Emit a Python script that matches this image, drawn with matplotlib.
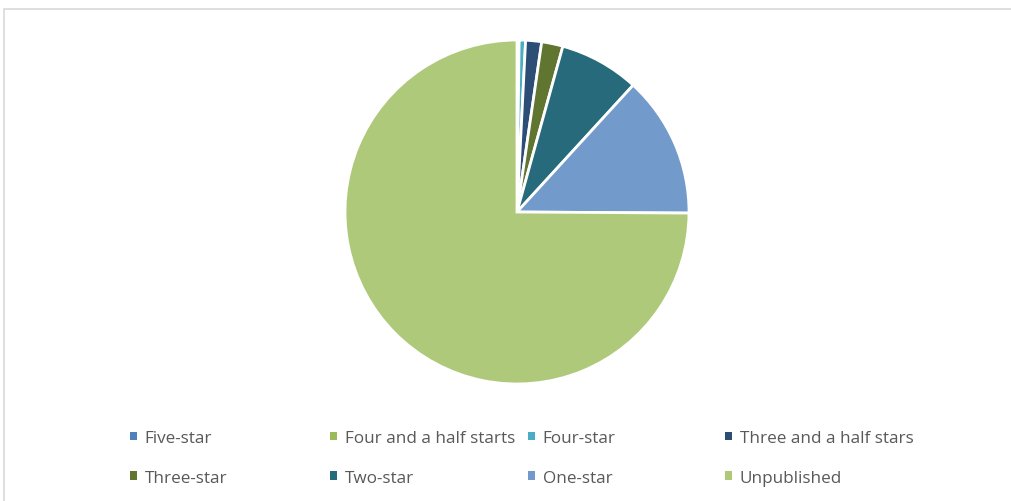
import matplotlib
matplotlib.use("Agg")
import matplotlib.pyplot as plt
from matplotlib.patches import Rectangle

categories = ["Five-star", "Four and a half starts", "Four-star", "Three and a half stars",
              "Three-star", "Two-star", "One-star", "Unpublished"]
values = [0.1, 0.1, 0.6, 1.5, 2.0, 7.5, 13.3, 74.9]
colors = ["#4F81BD", "#9BBB59", "#4BACC6", "#2C4D75", "#5F7530", "#276A7C", "#729ACA", "#AFC97A"]

W, H = 1012, 502
fig = plt.figure(figsize=(W / 100, H / 100), dpi=100)
fig.patch.set_facecolor("white")

# chart border
fig.patches.append(Rectangle((4 / W, -0.1), 1.2, (H - 10) / H + 0.1, transform=fig.transFigure,
                             fill=False, edgecolor="#D9D9D9", linewidth=1.2))

cx, cy, r = 517, 213, 172
ax = fig.add_axes([(cx - r) / W, (H - cy - r) / H, 2 * r / W, 2 * r / H])
wedges, _ = ax.pie(values, colors=colors, startangle=90, counterclock=False, radius=1,
                   wedgeprops=dict(edgecolor="white", linewidth=2.0, clip_on=False))
ax.set_xlim(-1, 1)
ax.set_ylim(-1, 1)
ax.set_aspect("equal")
ax.axis("off")

font = dict(family="Open Sans", size=12.3)
col_x = [130, 330, 528, 725]
row_pairs = [(0, 4), (1, 5), (2, 6), (3, 7)]
for x, (i, j) in zip(col_x, row_pairs):
    leg = fig.legend([wedges[i], wedges[j]], [categories[i], categories[j]],
                     loc="upper left", bbox_to_anchor=(x / W, 1 - 431 / H),
                     frameon=False, prop=font, ncol=1,
                     handlelength=0.4, handleheight=0.4, handletextpad=0.45,
                     labelspacing=1.4, borderpad=0, borderaxespad=0,
                     labelcolor="#595959")
    for h in leg.legend_handles:
        h.set_edgecolor("none")

fig.savefig("out.png", dpi=100)
